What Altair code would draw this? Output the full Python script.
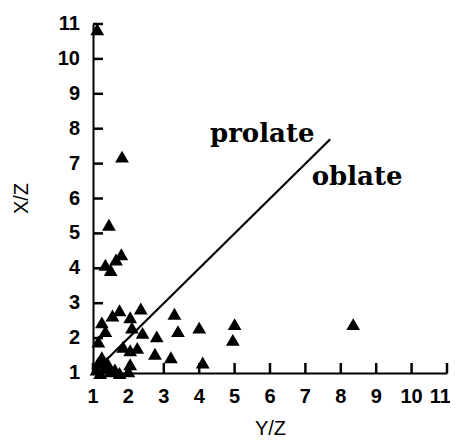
import altair as alt
import pandas as pd

# Y/Z (horizontal) and X/Z (vertical) ratios
yz = [1.12, 1.82, 1.45, 1.35, 1.50, 1.65, 1.80,
      1.75, 2.35, 1.55, 2.05, 1.25, 1.35, 2.10, 2.40, 2.80,
      3.30, 3.40, 4.00, 5.00, 4.95, 8.35,
      2.75, 2.25, 1.85, 1.15, 1.15, 2.05, 3.20, 4.10, 2.00,
      1.10, 1.20, 1.35, 1.50, 1.62, 1.75, 1.40, 1.25, 2.05]
xz = [10.85, 7.20, 5.25, 4.10, 3.95, 4.25, 4.40,
      2.80, 2.85, 2.65, 2.60, 2.45, 2.20, 2.30, 2.15, 2.05,
      2.70, 2.20, 2.30, 2.40, 1.95, 2.40,
      1.55, 1.72, 1.75, 1.90, 1.30, 1.25, 1.45, 1.30, 1.05,
      1.10, 1.00, 1.15, 1.05, 1.10, 1.00, 1.30, 1.45, 1.65]

line_yz = [1.0, 7.7]
line_xz = [1.0, 7.7]

label_text = ["prolate", "oblate"]
label_yz = [5.78, 8.46]
label_xz = [7.62, 6.39]

tick_values = list(range(1, 12))
tick_labels = [str(v) for v in tick_values]

AXIS_MIN = 1

pts = pd.DataFrame({"yz": yz, "xz": xz})
ln = pd.DataFrame({"yz": line_yz, "xz": line_xz})
lab = pd.DataFrame({"t": label_text, "yz": label_yz, "xz": label_xz})
tk = pd.DataFrame({"v": tick_values, "s": tick_labels})
tk["base"] = AXIS_MIN
tk_main = tk[tk["v"] < 11]
tk_last = tk[tk["v"] == 11]

xs = alt.Scale(domain=[1, 11], nice=False, zero=False)
ys = alt.Scale(domain=[1, 11], nice=False, zero=False)

axis_common = dict(
    grid=False, domainColor="black", domainWidth=2, ticks=False, labels=False,
    titleFont="Liberation Sans", titleFontSize=20,
    titleFontWeight="normal", titleColor="black",
)

xaxis = alt.Axis(title="Y/Z", titleX=177, titleY=61,
                 titleAlign="center", titleBaseline="alphabetic", **axis_common)
yaxis = alt.Axis(title="X/Z", titleX=-72, titleY=174,
                 titleAngle=-90, titleAlign="center", titleBaseline="middle",
                 **axis_common)

points = alt.Chart(pts).mark_point(shape="triangle-up", filled=True,
                                   color="black", opacity=1, size=190).encode(
    x=alt.X("yz:Q", scale=xs, axis=xaxis),
    y=alt.Y("xz:Q", scale=ys, axis=yaxis),
)

line = alt.Chart(ln).mark_line(color="black", strokeWidth=2.2).encode(
    x=alt.X("yz:Q", scale=xs),
    y=alt.Y("xz:Q", scale=ys),
)

text = alt.Chart(lab).mark_text(font="DejaVu Serif", fontWeight="bold",
                                fontSize=26, color="black", align="center",
                                baseline="alphabetic").encode(
    x=alt.X("yz:Q", scale=xs),
    y=alt.Y("xz:Q", scale=ys),
    text="t:N",
)

# inward ticks as short stroked path symbols anchored on the axis
xticks = alt.Chart(tk).mark_point(shape="M0,0L0,-2", filled=False,
                                  stroke="black", strokeWidth=2.5, opacity=1,
                                  strokeOpacity=1, size=100).encode(
    x=alt.X("v:Q", scale=xs),
    y=alt.Y("base:Q", scale=ys),
)
yticks = alt.Chart(tk).mark_point(shape="M0,0L2,0", filled=False,
                                  stroke="black", strokeWidth=2.5, opacity=1,
                                  strokeOpacity=1, size=100).encode(
    y=alt.Y("v:Q", scale=ys),
    x=alt.X("base:Q", scale=xs),
)

lab_style = dict(font="Liberation Sans", fontWeight="bold", fontSize=20,
                 color="black")
xlabels = alt.Chart(tk_main).mark_text(align="center", baseline="middle",
                                       dy=24, **lab_style).encode(
    x=alt.X("v:Q", scale=xs),
    y=alt.Y("base:Q", scale=ys),
    text="s:N",
)
xlabel_last = alt.Chart(tk_last).mark_text(align="right", baseline="middle",
                                           dy=24, dx=4, **lab_style).encode(
    x=alt.X("v:Q", scale=xs),
    y=alt.Y("base:Q", scale=ys),
    text="s:N",
)
ylabels = alt.Chart(tk).mark_text(align="right", baseline="middle",
                                  dx=-13, **lab_style).encode(
    y=alt.Y("v:Q", scale=ys),
    x=alt.X("base:Q", scale=xs),
    text="s:N",
)

chart = alt.layer(points, line, text, xticks, yticks, xlabels, xlabel_last,
                  ylabels).properties(
    width=354, height=349,
    autosize=alt.AutoSizeParams(type="none"),
    padding={"left": 85, "top": 16, "right": 3, "bottom": 65},
).configure_view(stroke=None)

chart.save("out.html", embed_options={"renderer": "svg", "actions": False})
